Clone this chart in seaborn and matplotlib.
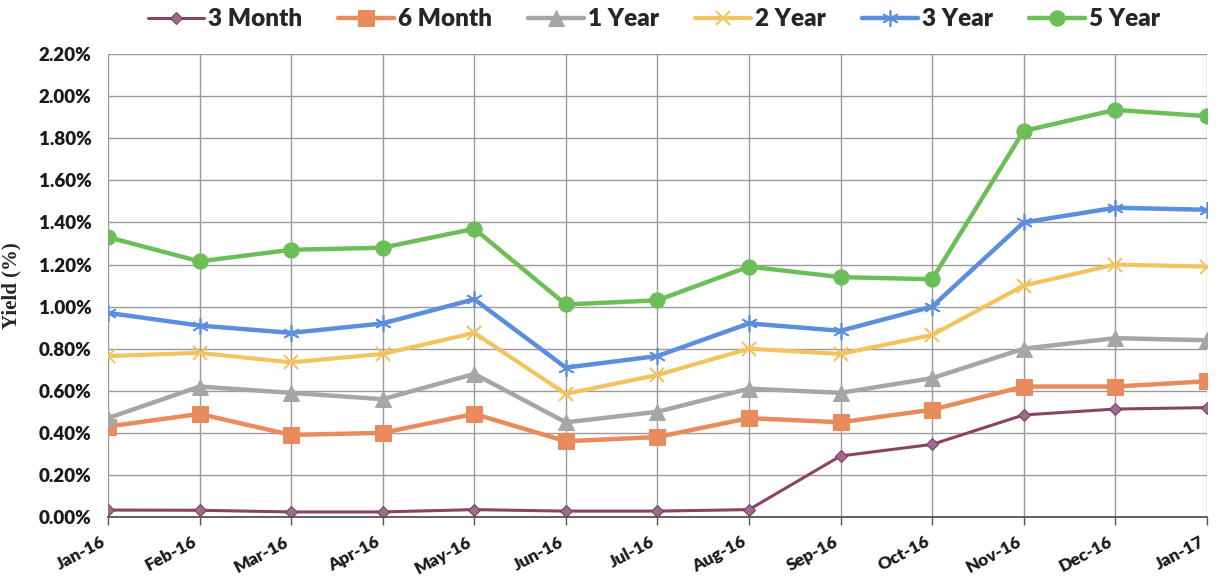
import matplotlib
matplotlib.use("Agg")
import matplotlib.pyplot as plt
import seaborn as sns
import pandas as pd
from matplotlib.ticker import FuncFormatter, MultipleLocator

months = ["Jan-16", "Feb-16", "Mar-16", "Apr-16", "May-16", "Jun-16", "Jul-16",
          "Aug-16", "Sep-16", "Oct-16", "Nov-16", "Dec-16", "Jan-17"]
m3 = [0.033, 0.032, 0.024, 0.024, 0.035, 0.028, 0.028, 0.035, 0.29, 0.345, 0.485, 0.513, 0.52]
m6 = [0.43, 0.49, 0.39, 0.40, 0.49, 0.36, 0.38, 0.47, 0.45, 0.51, 0.62, 0.62, 0.645]
y1 = [0.47, 0.62, 0.59, 0.56, 0.68, 0.45, 0.50, 0.61, 0.59, 0.66, 0.80, 0.85, 0.84]
y2 = [0.765, 0.78, 0.735, 0.775, 0.875, 0.585, 0.675, 0.80, 0.775, 0.865, 1.10, 1.20, 1.19]
y3 = [0.97, 0.91, 0.875, 0.92, 1.035, 0.71, 0.765, 0.92, 0.885, 1.00, 1.40, 1.47, 1.46]
y5 = [1.33, 1.215, 1.27, 1.28, 1.37, 1.01, 1.03, 1.19, 1.14, 1.13, 1.835, 1.935, 1.905]

series_names = ["3 Month", "6 Month", "1 Year", "2 Year", "3 Year", "5 Year"]
series_vals = [m3, m6, y1, y2, y3, y5]

sns.set_theme(style="white")
plt.rcParams['font.family'] = ['Lato', 'DejaVu Sans']

fig = plt.figure(figsize=(12.19, 5.82), dpi=100)
ax = fig.add_axes([0.0886, 0.1117, 0.9014, 0.7953])

styles = {
    "3 Month": dict(color="#8A4463", marker="D", ms=6, mfc="#9E6A92", mec="#7A3D5A", lw=2.2),
    "6 Month": dict(color="#E98B5C", marker="s", ms=11, mfc="#E98B5C", mec="#E98B5C", lw=3.2),
    "1 Year": dict(color="#A6A6A6", marker="^", ms=11, mfc="#A6A6A6", mec="#A6A6A6", lw=3.2),
    "2 Year": dict(color="#F2C35E", marker="x", ms=10, mfc="#F2C35E", mec="#F2C35E", lw=3, mew=1.5),
    "3 Year": dict(color="#5B8FDD", marker=(6, 2, 0), ms=12, mfc="#5B8FDD", mec="#5B8FDD", lw=3.2, mew=1.2),
    "5 Year": dict(color="#6CBF58", marker="o", ms=11, mfc="#6CBF58", mec="#6CBF58", lw=3.2),
}

x = list(range(len(months)))
for name, vals in zip(series_names, series_vals):
    st = dict(styles[name])
    df = pd.DataFrame({"x": x, "y": vals})
    sns.lineplot(data=df, x="x", y="y", ax=ax, label=name, color=st.pop("color"),
                 marker=st.pop("marker"), markersize=st.pop("ms"),
                 markerfacecolor=st.pop("mfc"), markeredgecolor=st.pop("mec"),
                 linewidth=st.pop("lw"), **st)

ax.set_xlim(0, len(months) - 1)
ax.set_ylim(0, 2.2)
ax.yaxis.set_major_locator(MultipleLocator(0.2))
ax.yaxis.set_major_formatter(FuncFormatter(lambda v, p: f"{v:.2f}%"))
ax.set_xticks(x)
ax.set_xticklabels(months, rotation=28, ha="right")
for lab in ax.get_xticklabels():
    lab.set_fontweight("heavy")
    lab.set_fontsize(12.5)
    lab.set_color("#1a1a1a")
for lab in ax.get_yticklabels():
    lab.set_fontweight("heavy")
    lab.set_fontsize(13.5)
    lab.set_color("#1a1a1a")
ax.tick_params(axis="x", bottom=True, length=6, width=1, color="#555555", pad=6)
ax.tick_params(axis="y", left=False, pad=6)
ax.grid(True, color="#9a9a9a", linewidth=1.0)
for s in ["top", "right", "left"]:
    ax.spines[s].set_visible(False)
ax.spines["bottom"].set_color("#555555")
ax.spines["bottom"].set_linewidth(1.3)
ax.set_xlabel("")
ax.set_ylabel("Yield (%)", fontfamily="Liberation Serif", fontweight="bold", fontsize=15, labelpad=12)

ax.legend(loc="center", bbox_to_anchor=(0.497, 1.075), ncol=6, frameon=False,
          prop={"weight": "heavy", "size": 17.5}, handlelength=2.3, columnspacing=1.5,
          handletextpad=0.15)

fig.savefig("out.png", dpi=100)
